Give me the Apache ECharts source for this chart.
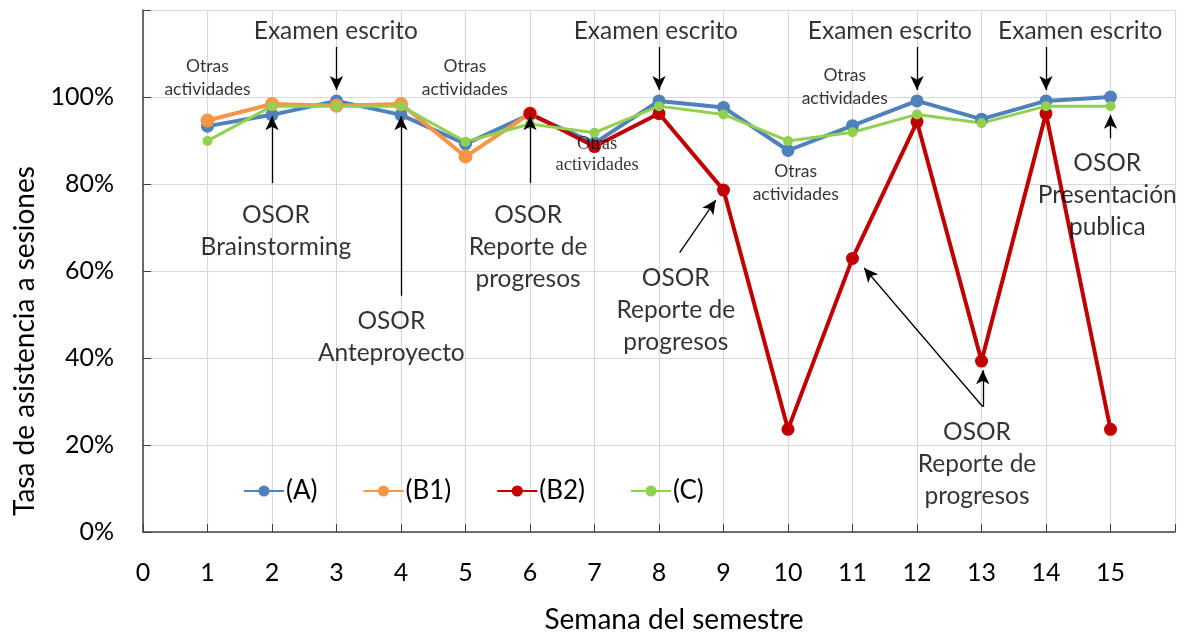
<!DOCTYPE html>
<html>
<head>
<meta charset="utf-8">
<script src="https://cdn.jsdelivr.net/npm/echarts@6/dist/echarts.min.js"></script>
<style>
  html, body { margin: 0; padding: 0; background: #fff; }
  #main { width: 1183px; height: 633px; }
</style>
</head>
<body>
<div id="main"></div>
<script>
// datos (semana, % asistencia)
var semanas = [1, 2, 3, 4, 5, 6, 7, 8, 9, 10, 11, 12, 13, 14, 15];
var grupoA  = [93.3, 95.9, 99.1, 95.9, 89.2, 96.0, 89.4, 99.1, 97.6, 87.7, 93.4, 99.1, 94.9, 99.1, 100.0];
var semanasB1 = [1, 2, 3, 4, 5, 6];
var grupoB1 = [94.6, 98.4, 98.0, 98.4, 86.3, 96.2];
var semanasB2 = [6, 7, 8, 9, 10, 11, 12, 13, 14, 15];
var grupoB2 = [96.2, 88.6, 96.2, 78.6, 23.6, 62.9, 94.3, 39.3, 96.2, 23.6];
var grupoC  = [89.9, 97.9, 97.9, 97.9, 89.7, 93.8, 91.8, 97.9, 96.0, 89.9, 91.9, 96.0, 94.0, 97.9, 97.9];

var ticksY = [0, 20, 40, 60, 80, 100];
var ticksX = [0, 1, 2, 3, 4, 5, 6, 7, 8, 9, 10, 11, 12, 13, 14, 15];

// anotaciones: [x, y, texto, tipo]
var notas = [
  [1.0, 104.3, 'Otras\nactividades', 'small'],
  [4.99, 104.3, 'Otras\nactividades', 'small'],
  [7.04, 86.8, 'Otras\nactividades', 'serif'],
  [10.12, 80.3, 'Otras\nactividades', 'small'],
  [10.88, 102.4, 'Otras\nactividades', 'small'],
  [2.99, 115.2, 'Examen escrito', 'big'],
  [7.95, 115.2, 'Examen escrito', 'big'],
  [11.58, 115.2, 'Examen escrito', 'big'],
  [14.53, 115.2, 'Examen escrito', 'big'],
  [2.06, 69.2, 'OSOR\nBrainstorming', 'big'],
  [3.85, 44.8, 'OSOR\nAnteproyecto', 'big'],
  [5.97, 65.5, 'OSOR\nReporte de\nprogresos', 'big'],
  [8.26, 51.0, 'OSOR\nReporte de\nprogresos', 'big'],
  [12.93, 15.6, 'OSOR\nReporte de\nprogresos', 'big'],
  [14.95, 77.5, 'OSOR\nPresentación\npublica', 'big']
];

// flechas: [x1, y1, x2, y2] (la punta en x2,y2)
var flechas = [
  [3, 111.5, 3, 101.6],
  [8, 111.5, 8, 101.6],
  [12, 111.5, 12, 101.6],
  [14, 111.5, 14, 101.6],
  [2, 80.2, 2, 95.6],
  [4, 54.3, 4, 95.6],
  [6, 80.2, 6, 95.6],
  [15, 90.5, 15, 95.9],
  [8.32, 64.2, 8.88, 76.3],
  [13.02, 28.8, 11.18, 60.7],
  [13.02, 28.8, 13.02, 37.2]
];

var fuente = 'Lato';
var estilos = {
  small: { fontSize: 17.5, lineHeight: 23, fontFamily: fuente },
  serif: { fontSize: 18.5, lineHeight: 21, fontFamily: 'Liberation Serif' },
  big:   { fontSize: 24.5, lineHeight: 32, fontFamily: fuente }
};

function pares(xs, ys) {
  return xs.map(function (x, i) { return [x, ys[i]]; });
}

var myChart = echarts.init(document.getElementById('main'));
var option = {
  animation: false,
  grid: { left: 143, right: 8, top: 10, bottom: 101, outerBoundsMode: 'none', containLabel: false },
  legend: {
    data: ['(A)', '(B1)', '(B2)', '(C)'],
    left: 238, top: 473,
    itemWidth: 40, itemHeight: 14, itemGap: 45,
    textStyle: { fontSize: 26, fontFamily: fuente, color: '#000', padding: [0, 0, 0, -3] }
  },
  xAxis: {
    type: 'value', min: 0, max: 16, interval: 1,
    name: 'Semana del semestre', nameLocation: 'middle', nameGap: 74,
    nameTextStyle: { fontSize: 28, fontFamily: fuente, color: '#000', padding: [0, 0, 0, 30] },
    axisLine: { lineStyle: { color: '#404040', width: 1.5 } },
    axisTick: { inside: true, length: 8, lineStyle: { color: '#404040' } },
    axisLabel: {
      margin: 28, fontSize: 25, fontFamily: fuente, color: '#000',
      formatter: function (v) { return ticksX.indexOf(v) >= 0 ? String(v) : ''; }
    },
    splitLine: { show: true, lineStyle: { color: '#d9d9d9', width: 1.2 } }
  },
  yAxis: {
    type: 'value', min: 0, max: 120, interval: 20,
    name: 'Tasa de asistencia a sesiones', nameLocation: 'middle', nameGap: 104,
    nameTextStyle: { fontSize: 28, fontFamily: fuente, color: '#000', padding: [0, 140, 0, 0] },
    axisLine: { show: true, lineStyle: { color: '#404040', width: 1.5 } },
    axisTick: { show: true, inside: true, length: 8, lineStyle: { color: '#404040' } },
    axisLabel: {
      margin: 29, fontSize: 25, fontFamily: fuente, color: '#000',
      formatter: function (v) { return ticksY.indexOf(v) >= 0 ? v + '%' : ''; }
    },
    splitLine: { show: true, lineStyle: { color: '#d9d9d9', width: 1.2 } }
  },
  series: [
    {
      name: '(A)', type: 'line', data: pares(semanas, grupoA),
      symbol: 'circle', symbolSize: 13, color: '#4f81bd',
      lineStyle: { width: 4 }
    },
    {
      name: '(B1)', type: 'line', data: pares(semanasB1, grupoB1),
      symbol: 'circle', symbolSize: 14, color: '#f79646',
      lineStyle: { width: 4 }
    },
    {
      name: '(B2)', type: 'line', data: pares(semanasB2, grupoB2),
      symbol: 'circle', symbolSize: 13, color: '#c00000',
      lineStyle: { width: 4 }
    },
    {
      name: '(C)', type: 'line', data: pares(semanas, grupoC),
      symbol: 'circle', symbolSize: 10, color: '#92d050',
      lineStyle: { width: 3 }
    },
    {
      name: 'notas', type: 'scatter', symbolSize: 0, silent: true, z: 10,
      data: notas.map(function (n) {
        return {
          value: [n[0], n[1]],
          label: Object.assign({
            show: true, position: 'inside', formatter: n[2],
            align: 'center', verticalAlign: 'middle', color: '#000'
          }, estilos[n[3]])
        };
      }),
      markLine: {
        silent: true, symbol: ['none', 'arrow'], symbolSize: [10, 14],
        label: { show: false },
        lineStyle: { color: '#000', width: 1.3, type: 'solid' },
        data: flechas.map(function (f) {
          return [{ coord: [f[0], f[1]] }, { coord: [f[2], f[3]] }];
        })
      }
    }
  ]
};
myChart.setOption(option);
</script>
</body>
</html>
